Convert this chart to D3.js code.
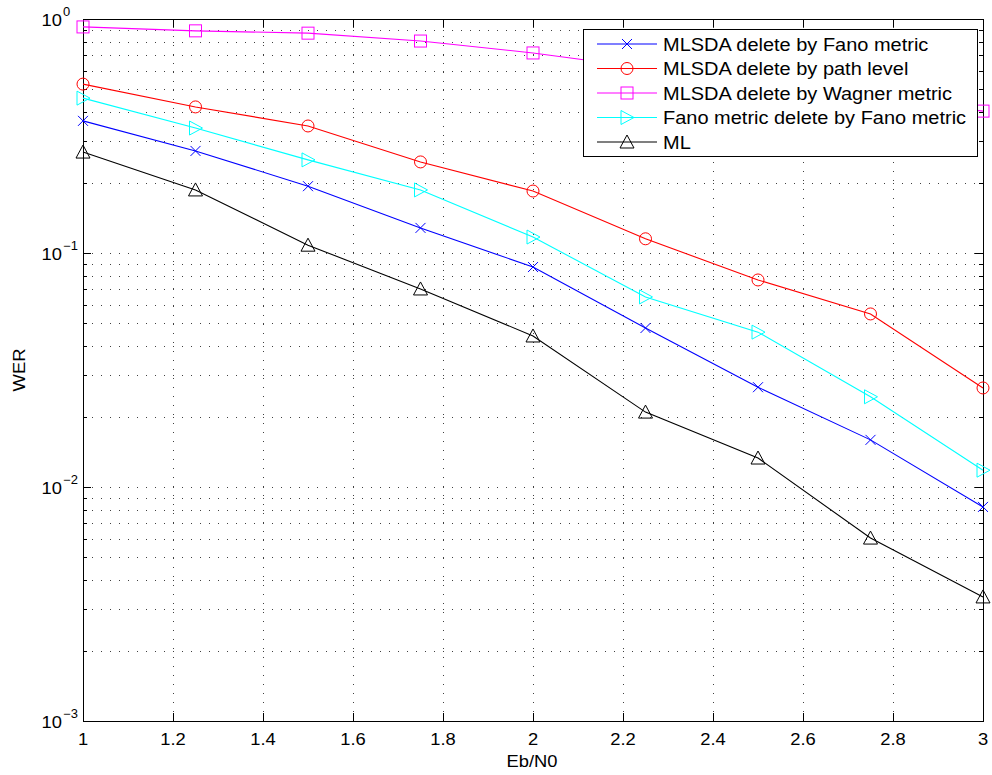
<!DOCTYPE html>
<html>
<head>
<meta charset="utf-8">
<script src="https://cdn.jsdelivr.net/npm/d3@7"></script>
<style>
  html, body { margin: 0; padding: 0; background: #fff; }
  svg { display: block; }
  text { font-family: "Liberation Sans", Arial, Helvetica, sans-serif; fill: #000; }
</style>
</head>
<body>
<svg id="chart" width="992" height="775"></svg>
<script>
// Eb/N0 points
const ebn0 = [1, 1.25, 1.5, 1.75, 2, 2.25, 2.5, 2.75, 3];

// Word error rate for each decoder
const werFanoDelete    = [0.367, 0.273, 0.193, 0.128, 0.0871, 0.0478, 0.0267, 0.0159, 0.00822];
const werPathLevel     = [0.527, 0.421, 0.349, 0.245, 0.184, 0.115, 0.0767, 0.0549, 0.0265];
const werWagner        = [0.925, 0.89, 0.87, 0.805, 0.716, 0.617, 0.533, 0.464, 0.404];
const werFanoFano      = [0.459, 0.342, 0.250, 0.186, 0.117, 0.0649, 0.0459, 0.0243, 0.0118];
const werML            = [0.270, 0.186, 0.108, 0.0702, 0.0442, 0.0209, 0.0133, 0.00605, 0.00339];

const seriesNames  = ["MLSDA delete by Fano metric", "MLSDA delete by path level",
                      "MLSDA delete by Wagner metric", "Fano metric delete by Fano metric", "ML"];
const seriesColors = ["#0000ff", "#ff0000", "#ff00ff", "#00ffff", "#000000"];
const seriesMarkers = ["x", "o", "s", ">", "^"];
const seriesValues = [werFanoDelete, werPathLevel, werWagner, werFanoFano, werML];

const xTicks = [1, 1.2, 1.4, 1.6, 1.8, 2, 2.2, 2.4, 2.6, 2.8, 3];
const yDecades = [-3, -2, -1, 0];

const xLabel = "Eb/N0";
const yLabel = "WER";

const svg = d3.select("#chart");
const plotLeft = 83, plotRight = 983, plotTop = 19, plotBottom = 721;

const x = d3.scaleLinear().domain([1, 3]).range([plotLeft, plotRight]);
const y = d3.scaleLog().domain([1e-3, 1]).range([plotBottom, plotTop]);

const px = v => Math.round(v) + 0.5;

// minor log ticks (2..9 times each decade)
const minorY = [];
yDecades.slice(0, -1).forEach(e => {
  for (let k = 2; k <= 9; k++) minorY.push(k * Math.pow(10, e));
});
const majorY = yDecades.map(e => Math.pow(10, e));

// dotted grid
const grid = svg.append("g").attr("stroke", "#000").attr("stroke-width", 1)
  .attr("stroke-dasharray", "1 8").attr("stroke-opacity", 0.75);
grid.selectAll("line.gx").data(xTicks.slice(1, -1)).join("line")
  .attr("x1", d => px(x(d))).attr("x2", d => px(x(d)))
  .attr("y1", plotBottom).attr("y2", plotTop);
grid.selectAll("line.gy").data(majorY.slice(1, -1).concat(minorY)).join("line")
  .attr("y1", d => px(y(d))).attr("y2", d => px(y(d)))
  .attr("x1", plotLeft).attr("x2", plotRight);

// axes box and ticks
const axes = svg.append("g").attr("stroke", "#000").attr("stroke-width", 1).attr("fill", "none");
axes.append("rect").attr("x", px(plotLeft)).attr("y", px(plotTop))
  .attr("width", Math.round(plotRight - plotLeft)).attr("height", Math.round(plotBottom - plotTop));

const majorLen = 8, minorLen = 4;
xTicks.forEach(t => {
  const xx = px(x(t));
  axes.append("line").attr("x1", xx).attr("x2", xx).attr("y1", plotBottom).attr("y2", plotBottom - majorLen);
  axes.append("line").attr("x1", xx).attr("x2", xx).attr("y1", plotTop).attr("y2", plotTop + majorLen);
});
majorY.forEach(t => {
  const yy = px(y(t));
  axes.append("line").attr("y1", yy).attr("y2", yy).attr("x1", plotLeft).attr("x2", plotLeft + majorLen);
  axes.append("line").attr("y1", yy).attr("y2", yy).attr("x1", plotRight).attr("x2", plotRight - majorLen);
});
minorY.forEach(t => {
  const yy = px(y(t));
  axes.append("line").attr("y1", yy).attr("y2", yy).attr("x1", plotLeft).attr("x2", plotLeft + minorLen);
  axes.append("line").attr("y1", yy).attr("y2", yy).attr("x1", plotRight).attr("x2", plotRight - minorLen);
});

// x tick labels
const xFmt = d3.format("~g");
svg.append("g").selectAll("text").data(xTicks).join("text")
  .attr("transform", d => `translate(${x(d)},745) scale(1.08,1)`)
  .attr("text-anchor", "middle").attr("font-size", 17)
  .text(d => xFmt(d));

// y tick labels: 10 with superscript exponent
const yl = svg.append("g");
yDecades.forEach(e => {
  const yy = y(Math.pow(10, e));
  const g = yl.append("g").attr("transform", `translate(62,${yy + 7}) scale(1.08,1)`);
  g.append("text").attr("text-anchor", "end").attr("font-size", 17).text("10");
  g.append("text").attr("x", 1).attr("y", -10).attr("font-size", 12)
    .text(e < 0 ? "\u2212" + (-e) : String(e));
});

// axis titles
svg.append("text").attr("transform", "translate(532,767) scale(1.08,1)")
  .attr("text-anchor", "middle").attr("font-size", 17).text(xLabel);
svg.append("text").attr("transform", `translate(25,${(plotTop + plotBottom) / 2}) rotate(-90) scale(1.08,1)`)
  .attr("text-anchor", "middle").attr("font-size", 17).text(yLabel);

// marker drawing
function drawMarker(g, type, cx, cy, color) {
  const m = g.append("g").attr("transform", `translate(${cx},${cy})`)
    .attr("stroke", color).attr("fill", "none").attr("stroke-width", 1);
  if (type === "x") {
    m.append("path").attr("d", "M-5,-5L5,5M-5,5L5,-5");
  } else if (type === "o") {
    m.append("circle").attr("r", 6);
  } else if (type === "s") {
    m.append("rect").attr("x", -6).attr("y", -6).attr("width", 12).attr("height", 12);
  } else if (type === ">") {
    m.append("path").attr("d", "M-6,-7L7,0L-6,7Z");
  } else if (type === "^") {
    m.append("path").attr("d", "M0,-7L7,6L-7,6Z");
  }
}

// series lines and markers
const line = d3.line().x((d, i) => x(ebn0[i])).y(d => y(d));
const plot = svg.append("g");
seriesValues.forEach((vals, si) => {
  plot.append("path").datum(vals).attr("d", line)
    .attr("fill", "none").attr("stroke", seriesColors[si]).attr("stroke-width", 1.1);
  vals.forEach((v, i) => drawMarker(plot, seriesMarkers[si], x(ebn0[i]), y(v), seriesColors[si]));
});

// legend
const lg = svg.append("g");
lg.append("rect").attr("x", 583.5).attr("y", 29.5).attr("width", 394).attr("height", 127)
  .attr("fill", "#fff").attr("stroke", "#000").attr("stroke-width", 1);
seriesNames.forEach((name, i) => {
  const ly = 44 + i * 24.5;
  lg.append("line").attr("x1", 597).attr("x2", 657).attr("y1", ly).attr("y2", ly)
    .attr("stroke", seriesColors[i]).attr("stroke-width", 1.1);
  drawMarker(lg, seriesMarkers[i], 627, ly, seriesColors[i]);
  lg.append("text").attr("transform", `translate(663,${ly + 6.5}) scale(1.08,1)`)
    .attr("font-size", 18.5).text(name);
});
</script>
</body>
</html>
